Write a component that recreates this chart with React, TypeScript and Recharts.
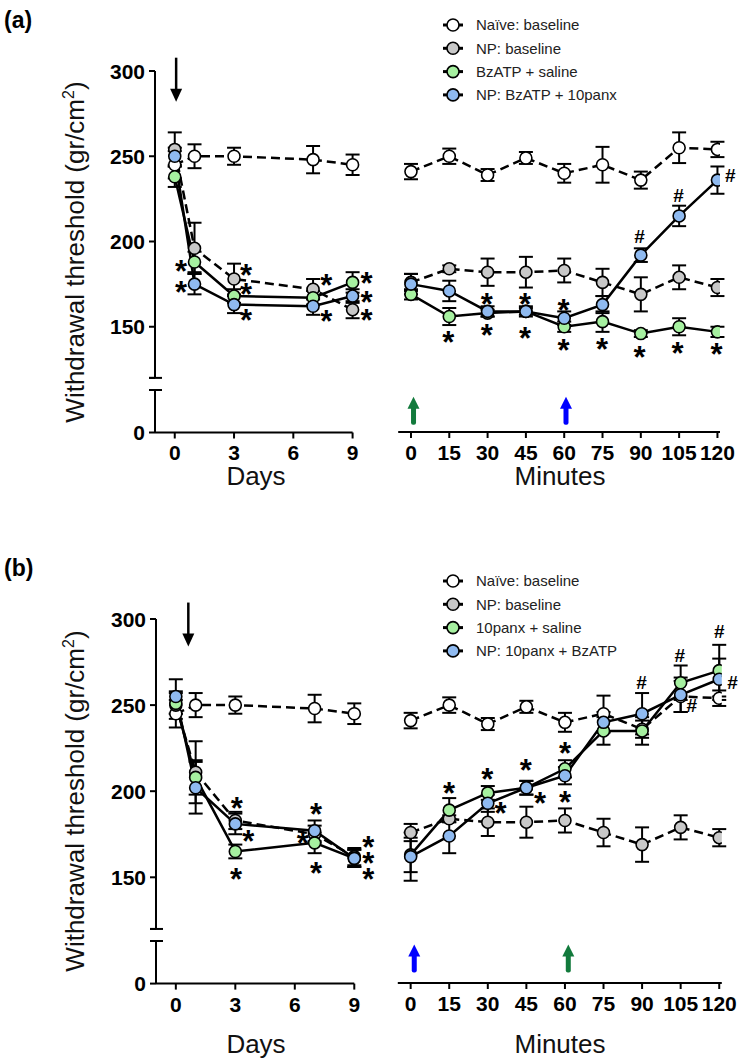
import React from "react";
import { LineChart, Line, XAxis, YAxis, ErrorBar, ReferenceDot } from "recharts";

const FONT = "'Liberation Sans', Arial, Helvetica, sans-serif";

// categories / ticks
const days = [0, 1, 3, 7, 9];
const dayTicks = [0, 3, 6, 9];
const minutes = [0, 15, 30, 45, 60, 75, 90, 105, 120];
const yTicks = [150, 200, 250, 300];

// baselines shared by both panels
const dayNaive = [245, 250, 250, 248, 245];
const dayNaiveErr = [8, 7, 5, 8, 6];
const minNaive = [241, 250, 239, 249, 240, 245, 236, 255, 254];
const minNaiveErr = [4.5, 4.5, 3.5, 3.5, 5.5, 10.5, 5, 9, 4.5];
const minNp = [176, 184, 182, 182, 183, 176, 169, 179, 173];
const minNpErr = [5, 2, 8, 9, 7, 8, 10, 7, 5];

// panel (a)
const aNames = ["Naïve: baseline", "NP: baseline", "BzATP + saline", "NP: BzATP + 10panx"];
const aDayNp = [254, 196, 178, 172, 160];
const aDayNpErr = [10, 15, 9, 6, 5];
const aDayGreen = [238, 188, 168, 167, 176];
const aDayGreenErr = [6, 6, 4, 4, 6];
const aDayBlue = [250, 175, 163, 162, 168];
const aDayBlueErr = [5, 6, 5, 5, 4];
const aMinGreen = [169, 156, 158, 159, 150, 153, 146, 150, 147];
const aMinGreenErr = [3, 5, 2, 2, 3, 6, 2, 5, 3];
const aMinBlue = [175, 171, 159, 159, 155, 163, 192, 215, 236];
const aMinBlueErr = [6, 6, 3, 3, 4, 5, 4, 6, 8];

// panel (b)
const bNames = ["Naïve: baseline", "NP: baseline", "10panx + saline", "NP: 10panx + BzATP"];
const bDayNp = [250, 211, 183, 175, 162];
const bDayNpErr = [8, 18, 5, 5, 5];
const bDayGreen = [251, 208, 165, 170, 161];
const bDayGreenErr = [6, 10, 4, 6, 5];
const bDayBlue = [255, 202, 181, 177, 161];
const bDayBlueErr = [10, 15, 6, 6, 5];
const bMinGreen = [163, 189, 199, 202, 213, 235, 235, 263, 270];
const bMinGreenErr = [10, 7, 4, 4, 5, 8, 8, 10, 15];
const bMinBlue = [162, 174, 193, 202, 209, 240, 245, 256, 265];
const bMinBlueErr = [14, 10, 5, 4, 5, 6, 12, 10, 12];

// significance marks [x, y, symbol]
const aDayMarks: [number, number, string][] = [
  [0.32, 186, "*"], [0.32, 174, "*"], [3.61, 184, "*"], [3.61, 173, "*"], [3.61, 157.5, "*"],
  [7.67, 178, "*"], [7.67, 157, "*"], [9.7, 179, "*"], [9.7, 168, "*"], [9.7, 157.5, "*"],
];
const aMinMarks: [number, number, string][] = [
  [14.6, 144.7, "*"], [29.7, 148.6, "*"], [44.7, 146.7, "*"], [59.7, 139.8, "*"], [74.8, 140.2, "*"],
  [89.5, 135.5, "*"], [104.4, 138.2, "*"], [119.6, 137.5, "*"], [29.7, 167, "*"], [44.7, 167, "*"],
  [59.7, 163.3, "*"], [89.5, 203.5, "#"], [104.8, 227, "#"], [125, 238.8, "#"],
];
const bDayMarks: [number, number, string][] = [
  [3.07, 194, "*"], [3.66, 174.6, "*"], [3.04, 152.3, "*"], [7.07, 190, "*"], [6.4, 173.6, "*"],
  [7.07, 156.2, "*"], [9.7, 171.3, "*"], [9.7, 162, "*"], [9.7, 152.3, "*"],
];
const bMinMarks: [number, number, string][] = [
  [14.9, 202.7, "*"], [29.8, 210.5, "*"], [44.8, 215.9, "*"], [60, 225.9, "*"], [35, 191, "*"],
  [50.3, 196.5, "*"], [60, 197.3, "*"], [89.8, 263.7, "#"], [104.7, 279.2, "#"], [120, 292.8, "#"],
  [125.2, 263.7, "#"], [109.3, 249.8, "#"],
];

// injection arrows: [x, tip value, agent]
const aDayArrow: [number, number] = [0.07, 282];
const bDayArrow: [number, number] = [0.63, 284];
const aMinArrows: [number, number, string][] = [[1, 109, "bzatp"], [60.7, 109, "panx"]];
const bMinArrows: [number, number, string][] = [[1.4, 111, "panx"], [61.3, 111, "bzatp"]];

const arrowColor: Record<string, string> = { bzatp: "#127a3c", panx: "#0000ff" };

const series = [
  { key: "naive", fill: "#ffffff", dash: "9 5" },
  { key: "np", fill: "#c8c8c8", dash: "9 5" },
  { key: "green", fill: "#a6f0a0", dash: undefined },
  { key: "blue", fill: "#8fbaf0", dash: undefined },
];

function toRows(xs: number[], cols: Record<string, number[]>) {
  return xs.map((x, i) => {
    const r: Record<string, number> = { x };
    Object.keys(cols).forEach((k) => (r[k] = cols[k][i]));
    return r;
  });
}

const Mark = ({ cx, cy, t }: { cx: number; cy: number; t: string }) =>
  t === "*" ? (
    <text x={cx} y={cy + 17} textAnchor="middle" fontFamily={FONT} fontWeight={700} fontSize={31} fill="#000">
      *
    </text>
  ) : (
    <text x={cx} y={cy + 7} textAnchor="middle" fontFamily={FONT} fontWeight={700} fontSize={19} fill="#000">
      #
    </text>
  );

const DownArrow = ({ cx, cy }: any) => (
  <g>
    <line x1={cx} x2={cx} y1={cy - 44} y2={cy - 10} stroke="#000" strokeWidth={2.5} />
    <polygon points={`${cx - 6},${cy - 13} ${cx + 6},${cy - 13} ${cx},${cy}`} fill="#000" />
  </g>
);

const UpArrow = ({ cx, cy, color }: any) => (
  <g>
    <rect x={cx - 2.5} y={cy + 9} width={5} height={19} rx={2} fill={color} />
    <polygon points={`${cx - 6},${cy + 12} ${cx + 6},${cy + 12} ${cx},${cy}`} fill={color} />
  </g>
);

const tickFont = { fontSize: 21, fontWeight: 700, fill: "#000", fontFamily: FONT };

function YTick(props: any) {
  const { x, y, payload, cap } = props;
  const ax = x + 10;
  if (payload.value === cap) {
    return <line x1={ax - 6} x2={ax + 7} y1={y} y2={y} stroke="#000" strokeWidth={2} />;
  }
  return (
    <text x={x} y={y} dy="0.36em" textAnchor="end" {...tickFont}>
      {payload.value}
    </text>
  );
}

function seriesLines() {
  return series.map((s) => (
    <Line
      key={s.key}
      dataKey={s.key}
      stroke="#000"
      strokeWidth={2.5}
      strokeDasharray={s.dash}
      isAnimationActive={false}
      activeDot={false}
      dot={{ r: 6, fill: s.fill, stroke: "#000", strokeWidth: 1.6, strokeDasharray: "none" }}
    >
      <ErrorBar dataKey={s.key + "Err"} direction="y" width={7} stroke="#000" strokeWidth={2} />
    </Line>
  ));
}

function marks(list: [number, number, string][]) {
  return list.map(([x, y, t], i) => (
    <ReferenceDot key={"m" + i} x={x} y={y} ifOverflow="visible" shape={(p: any) => <Mark cx={p.cx} cy={p.cy} t={t} />} />
  ));
}

type Geo = {
  y300: number; ppu: number; y0: number; lowTop: number; axisX: number; dayRight: number;
  minLeft: number; minRight: number; legendY: number; tag: string; tagY: number; titleY: number;
};

const geoA: Geo = { y300: 71, ppu: 1.705, y0: 432, lowTop: 389.5, axisX: 155, dayRight: 352.6, minLeft: 398.2, minRight: 720, legendY: 25, tag: "(a)", tagY: 29, titleY: 476 };
const geoB: Geo = { y300: 619.3, ppu: 1.722, y0: 983.3, lowTop: 940.7, axisX: 156, dayRight: 354.3, minLeft: 397.8, minRight: 721.8, legendY: 580.7, tag: "(b)", tagY: 577, titleY: 1044 };

function Panel({ g, dayRows, minRows, names, dayMarks, minMarks, dayArrow, minArrows }: any) {
  const upperH = 180 * g.ppu;
  const lowH = g.y0 - g.lowTop;
  const lowMax = lowH / g.ppu;
  const minMin = 300 - (g.y0 - g.y300) / g.ppu;
  const mTop = 60;
  const yw = 60;
  const minTop = g.y300 - 60;
  return (
    <>
      <div style={{ position: "absolute", left: 4, top: g.tagY - 22, fontFamily: FONT, fontWeight: 700, fontSize: 23, color: "#000" }}>{g.tag}</div>
      <div
        style={{
          position: "absolute", left: 75 - 220, top: (g.y300 + g.y0) / 2 - 16, width: 440, height: 32, lineHeight: "32px",
          textAlign: "center", transform: "rotate(-90deg)", fontFamily: FONT, fontSize: 26, color: "#111", whiteSpace: "nowrap",
        }}
      >
        Withdrawal threshold (gr/cm<sup style={{ fontSize: 16, lineHeight: 0 }}>2</sup>)
      </div>

      {/* days, upper segment */}
      <div style={{ position: "absolute", left: 0, top: g.y300 - mTop }}>
        <LineChart width={g.dayRight + 40} height={mTop + upperH + 10} data={dayRows} margin={{ top: mTop, right: 40, bottom: 10, left: g.axisX - yw }}>
          <XAxis dataKey="x" type="number" domain={[-1, 9]} hide />
          <YAxis
            type="number" domain={[120, 300]} ticks={[120, ...yTicks]} width={yw} interval={0}
            axisLine={{ stroke: "#000", strokeWidth: 2 }} tickLine={{ stroke: "#000", strokeWidth: 2 }} tickSize={6} tickMargin={4}
            tick={(p: any) => <YTick {...p} cap={120} />}
          />
          {seriesLines()}
          <ReferenceDot x={dayArrow[0]} y={dayArrow[1]} ifOverflow="visible" shape={(p: any) => <DownArrow cx={p.cx} cy={p.cy} />} />
          {marks(dayMarks)}
        </LineChart>
      </div>

      {/* days, lower segment with x axis */}
      <div style={{ position: "absolute", left: 0, top: g.lowTop - 6 }}>
        <LineChart width={g.dayRight + 40} height={6 + lowH + 40} data={dayRows} margin={{ top: 6, right: 40, bottom: 0, left: g.axisX - yw }}>
          <XAxis
            dataKey="x" type="number" domain={[-1, 9]} ticks={dayTicks} interval={0} height={40}
            axisLine={{ stroke: "#000", strokeWidth: 2 }} tickLine={{ stroke: "#000", strokeWidth: 2 }} tickSize={6} tickMargin={7} tick={tickFont}
          />
          <YAxis
            type="number" domain={[0, lowMax]} ticks={[0, lowMax]} width={yw} interval={0} allowDataOverflow
            axisLine={{ stroke: "#000", strokeWidth: 2 }} tickLine={{ stroke: "#000", strokeWidth: 2 }} tickSize={6} tickMargin={4}
            tick={(p: any) => <YTick {...p} cap={lowMax} />}
          />
        </LineChart>
      </div>
      <div style={{ position: "absolute", left: 256 - 60, width: 120, top: g.titleY - 15, textAlign: "center", fontFamily: FONT, fontSize: 26, lineHeight: "30px", color: "#111" }}>Days</div>

      {/* minutes */}
      <div style={{ position: "absolute", left: 380, top: minTop }}>
        <LineChart width={362} height={60 + (g.y0 - g.y300) + 40} data={minRows} margin={{ top: 60, right: 362 - (g.minRight - 380), bottom: 0, left: g.minLeft - 380 }}>
          <XAxis
            dataKey="x" type="number" domain={[-5, 121]} ticks={minutes} interval={0} height={40} allowDataOverflow
            axisLine={{ stroke: "#000", strokeWidth: 2 }} tickLine={{ stroke: "#000", strokeWidth: 2 }} tickSize={6} tickMargin={7} tick={tickFont}
          />
          <YAxis type="number" domain={[minMin, 300]} hide allowDataOverflow />
          {seriesLines()}
          {minArrows.map(([x, tip, agent]: [number, number, string], i: number) => (
            <ReferenceDot key={"ar" + i} x={x} y={tip} ifOverflow="visible" shape={(p: any) => <UpArrow cx={p.cx} cy={p.cy} color={arrowColor[agent]} />} />
          ))}
          {marks(minMarks)}
        </LineChart>
      </div>
      <div style={{ position: "absolute", left: 560 - 80, width: 160, top: g.titleY - 15, textAlign: "center", fontFamily: FONT, fontSize: 26, lineHeight: "30px", color: "#111" }}>Minutes</div>

      {/* legend */}
      <svg style={{ position: "absolute", left: 430, top: g.legendY - 12 }} width={300} height={95}>
        {names.map((n: string, i: number) => {
          const cy = 12 + i * 23.3;
          return (
            <g key={n}>
              <line x1={13} x2={33} y1={cy} y2={cy} stroke="#000" strokeWidth={3} />
              <circle cx={23} cy={cy} r={6} fill={series[i].fill} stroke="#000" strokeWidth={1.6} />
              <text x={46} y={cy} dy="0.35em" fontFamily={FONT} fontSize={15} fill="#222">{n}</text>
            </g>
          );
        })}
      </svg>
    </>
  );
}

const aDayRows = toRows(days, { naive: dayNaive, naiveErr: dayNaiveErr, np: aDayNp, npErr: aDayNpErr, green: aDayGreen, greenErr: aDayGreenErr, blue: aDayBlue, blueErr: aDayBlueErr });
const aMinRows = toRows(minutes, { naive: minNaive, naiveErr: minNaiveErr, np: minNp, npErr: minNpErr, green: aMinGreen, greenErr: aMinGreenErr, blue: aMinBlue, blueErr: aMinBlueErr });
const bDayRows = toRows(days, { naive: dayNaive, naiveErr: dayNaiveErr, np: bDayNp, npErr: bDayNpErr, green: bDayGreen, greenErr: bDayGreenErr, blue: bDayBlue, blueErr: bDayBlueErr });
const bMinRows = toRows(minutes, { naive: minNaive, naiveErr: minNaiveErr, np: minNp, npErr: minNpErr, green: bMinGreen, greenErr: bMinGreenErr, blue: bMinBlue, blueErr: bMinBlueErr });

export default function App() {
  return (
    <div style={{ position: "absolute", left: 0, top: 0, width: 742, height: 1059, background: "#fff", overflow: "hidden" }}>
      <Panel g={geoA} dayRows={aDayRows} minRows={aMinRows} names={aNames} dayMarks={aDayMarks} minMarks={aMinMarks} dayArrow={aDayArrow} minArrows={aMinArrows} />
      <Panel g={geoB} dayRows={bDayRows} minRows={bMinRows} names={bNames} dayMarks={bDayMarks} minMarks={bMinMarks} dayArrow={bDayArrow} minArrows={bMinArrows} />
    </div>
  );
}
